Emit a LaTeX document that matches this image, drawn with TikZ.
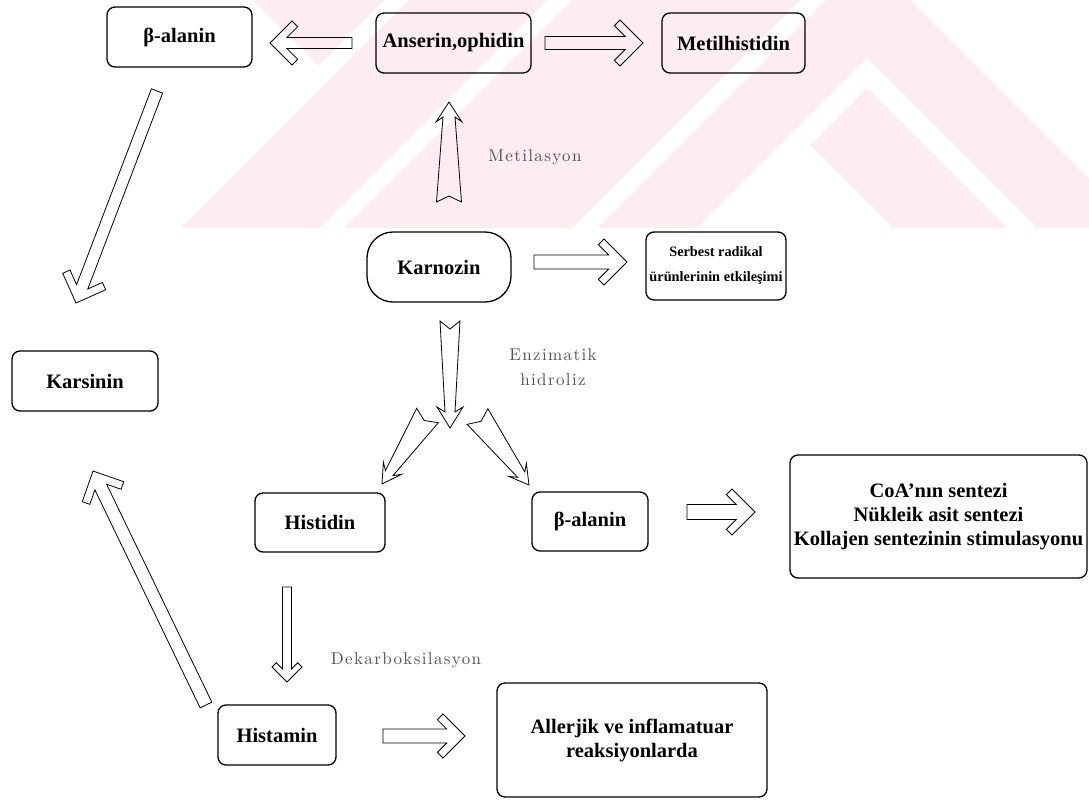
\documentclass[tikz,border=0pt]{standalone}
\usepackage{fontspec}
\usetikzlibrary{calc}
\newfontfamily\lblfont[LetterSpace=8]{lmroman10-regular.otf}
\newfontfamily\boxfont{Liberation Serif}
\definecolor{wmpink}{RGB}{253,236,240}

\tikzset{
  box/.style={draw=black, line width=1.3pt, rounded corners=8pt, inner sep=0pt,
              align=center, font=\boxfont\bfseries\fontsize{20.5}{24}\selectfont},
  blk/.style={draw=black, line width=0.8pt, line join=miter},
  steplabel/.style={text=black!68, inner sep=0pt, align=center,
              font=\lblfont\fontsize{17}{25}\selectfont},
}

% block arrow with a chevron head: id, tail, tip, shaft half-width, head half-width, arm thickness
\newcommand\chevarrow[6]{%
  \pgfmathsetmacro\cA{#6*1.41421+#4}%
  \pgfmathsetmacro\cB{#5+#6*0.70711}%
  \pgfmathsetmacro\cC{#5-#6*0.70711}%
  \coordinate (#1-1) at ($(#2)!#4pt!90:(#3)$);
  \coordinate (#1-9) at ($(#2)!#4pt!-90:(#3)$);
  \coordinate (#1-a) at ($(#3)!\cA pt!(#2)$);
  \coordinate (#1-b) at ($(#3)!\cB pt!(#2)$);
  \coordinate (#1-h) at ($(#3)!#5pt!(#2)$);
  \coordinate (#1-2) at ($(#1-a)!#4pt!-90:(#2)$);
  \coordinate (#1-8) at ($(#1-a)!#4pt!90:(#2)$);
  \coordinate (#1-3) at ($(#1-b)!\cC pt!-90:(#2)$);
  \coordinate (#1-7) at ($(#1-b)!\cC pt!90:(#2)$);
  \coordinate (#1-4) at ($(#1-h)!#5pt!-90:(#2)$);
  \coordinate (#1-6) at ($(#1-h)!#5pt!90:(#2)$);
  \draw[blk] (#1-1) -- (#1-2) -- (#1-3) -- (#1-4) -- (#3) -- (#1-6) -- (#1-7)
    -- (#1-8) -- (#1-9) -- cycle;
}

% tapering arrow with notched tail: id, tail, tip, tail half-width, notch depth,
% shaft half-width at head, head join distance, barb half-width, barb distance
\newcommand\taparrow[9]{%
  \coordinate (#1-1) at ($(#2)!#4pt!90:(#3)$);
  \coordinate (#1-7) at ($(#2)!#4pt!-90:(#3)$);
  \coordinate (#1-n) at ($(#2)!#5pt!(#3)$);
  \coordinate (#1-j) at ($(#3)!#7pt!(#2)$);
  \coordinate (#1-b) at ($(#3)!#9pt!(#2)$);
  \coordinate (#1-2) at ($(#1-j)!#6pt!-90:(#2)$);
  \coordinate (#1-6) at ($(#1-j)!#6pt!90:(#2)$);
  \coordinate (#1-3) at ($(#1-b)!#8pt!-90:(#2)$);
  \coordinate (#1-5) at ($(#1-b)!#8pt!90:(#2)$);
  \draw[blk] (#1-1) -- (#1-2) -- (#1-3) -- (#3) -- (#1-5) -- (#1-6) -- (#1-7)
    -- (#1-n) -- cycle;
}

\begin{document}
\begin{tikzpicture}[x=1pt, y=-1pt]
\useasboundingbox (0,0) rectangle (1089,800);

% faint background emblem
\begin{scope}
  \clip (0,0) rectangle (1089,228);
  \fill[wmpink] (253,0) -- (384,0) -- (318.5,65.5) -- cycle;
  \fill[wmpink] (409,0) -- (547,0) -- (319,228) -- (181,228) -- cycle;
  \fill[wmpink] (572,0) -- (800,0) -- (572,228) -- (344,228) -- cycle;
  \fill[wmpink] (826,0) -- (910,0) -- (1089,179) -- (1089,228) -- (598,228) -- cycle;
  \fill[white] (867,58) -- (1100,291) -- (1100,321) -- (867,88) -- (697,258) -- (667,258) -- cycle;
  \fill[white] (797,132) -- (893,228) -- (701,228) -- cycle;
\end{scope}

% boxes
\node[box, minimum width=145pt, minimum height=60pt] (balA) at (179.5,37) {β-alanin};
\node[box, minimum width=155pt, minimum height=60pt] (ans) at (453.5,43) {Anserin,ophidin};
\node[box, minimum width=143pt, minimum height=60pt] (met) at (733.5,43) {Metilhistidin};
\node[box, minimum width=144pt, minimum height=70pt, rounded corners=26pt] (karn) at (439,267) {Karnozin};
\node[box, minimum width=140pt, minimum height=68pt, font=\boxfont\bfseries\fontsize{14.3}{25}\selectfont] (serb) at (716,266) {Serbest radikal\\ürünlerinin etkileşimi};
\node[box, minimum width=146pt, minimum height=60pt] (kars) at (85,381) {Karsinin};
\node[box, minimum width=130pt, minimum height=59pt] (hist) at (320,522.5) {Histidin};
\node[box, minimum width=116pt, minimum height=59pt] (balB) at (590,521.5) {β-alanin};
\node[box, minimum width=297pt, minimum height=123pt] (coa) at (938.5,516.5) {CoA’nın sentezi\\Nükleik asit sentezi\\Kollajen sentezinin stimulasyonu};
\node[box, minimum width=118pt, minimum height=60pt] (hism) at (277,735) {Histamin};
\node[box, minimum width=270pt, minimum height=114pt] (all) at (632,740) {Allerjik ve inflamatuar\\reaksiyonlarda};

% step labels
\node[steplabel] (lmet) at (535,157) {Metilasyon};
\node[steplabel] (lenz) at (553,367.5) {Enzimatik\\hidroliz};
\node[steplabel] (ldek) at (406,660) {Dekarboksilasyon};

% block arrows
\coordinate (a1s) at (352,43);  \coordinate (a1e) at (270,43);
\chevarrow{a1}{a1s}{a1e}{5.5}{22}{8}
\coordinate (a2s) at (545,43);  \coordinate (a2e) at (643,43);
\chevarrow{a2}{a2s}{a2e}{6.5}{23}{8}
\coordinate (a3s) at (534,262); \coordinate (a3e) at (627,262);
\chevarrow{a3}{a3s}{a3e}{7}{23}{8}
\coordinate (a4s) at (687,512); \coordinate (a4e) at (755,512);
\chevarrow{a4}{a4s}{a4e}{7.5}{23}{8}
\coordinate (a5s) at (383,736); \coordinate (a5e) at (465,736);
\chevarrow{a5}{a5s}{a5e}{7}{22}{8}
\coordinate (a6s) at (157,91);  \coordinate (a6e) at (76,303);
\chevarrow{a6}{a6s}{a6e}{6}{23}{8}
\coordinate (a7s) at (206,705); \coordinate (a7e) at (93,471);
\chevarrow{a7}{a7s}{a7e}{6.5}{23}{8}
\coordinate (a8s) at (287,587); \coordinate (a8e) at (287,682);
\chevarrow{a8}{a8s}{a8e}{4.5}{15}{6}

% tapering arrows
\coordinate (t1s) at (449,202); \coordinate (t1e) at (449,102);
\taparrow{t1}{t1s}{t1e}{12.5}{6}{6}{15}{13}{20}
\coordinate (t2s) at (450,321); \coordinate (t2e) at (450,428);
\taparrow{t2}{t2s}{t2e}{10}{8}{5}{16}{13}{21}
\coordinate (t3s) at (427.5,415.5); \coordinate (t3e) at (382,484);
\taparrow{t3}{t3s}{t3e}{13}{6}{4.5}{13}{11}{19}
\coordinate (t4s) at (477.5,416.5); \coordinate (t4e) at (529,485);
\taparrow{t4}{t4s}{t4e}{13}{6}{4.5}{13}{11}{19}
\end{tikzpicture}
\end{document}
